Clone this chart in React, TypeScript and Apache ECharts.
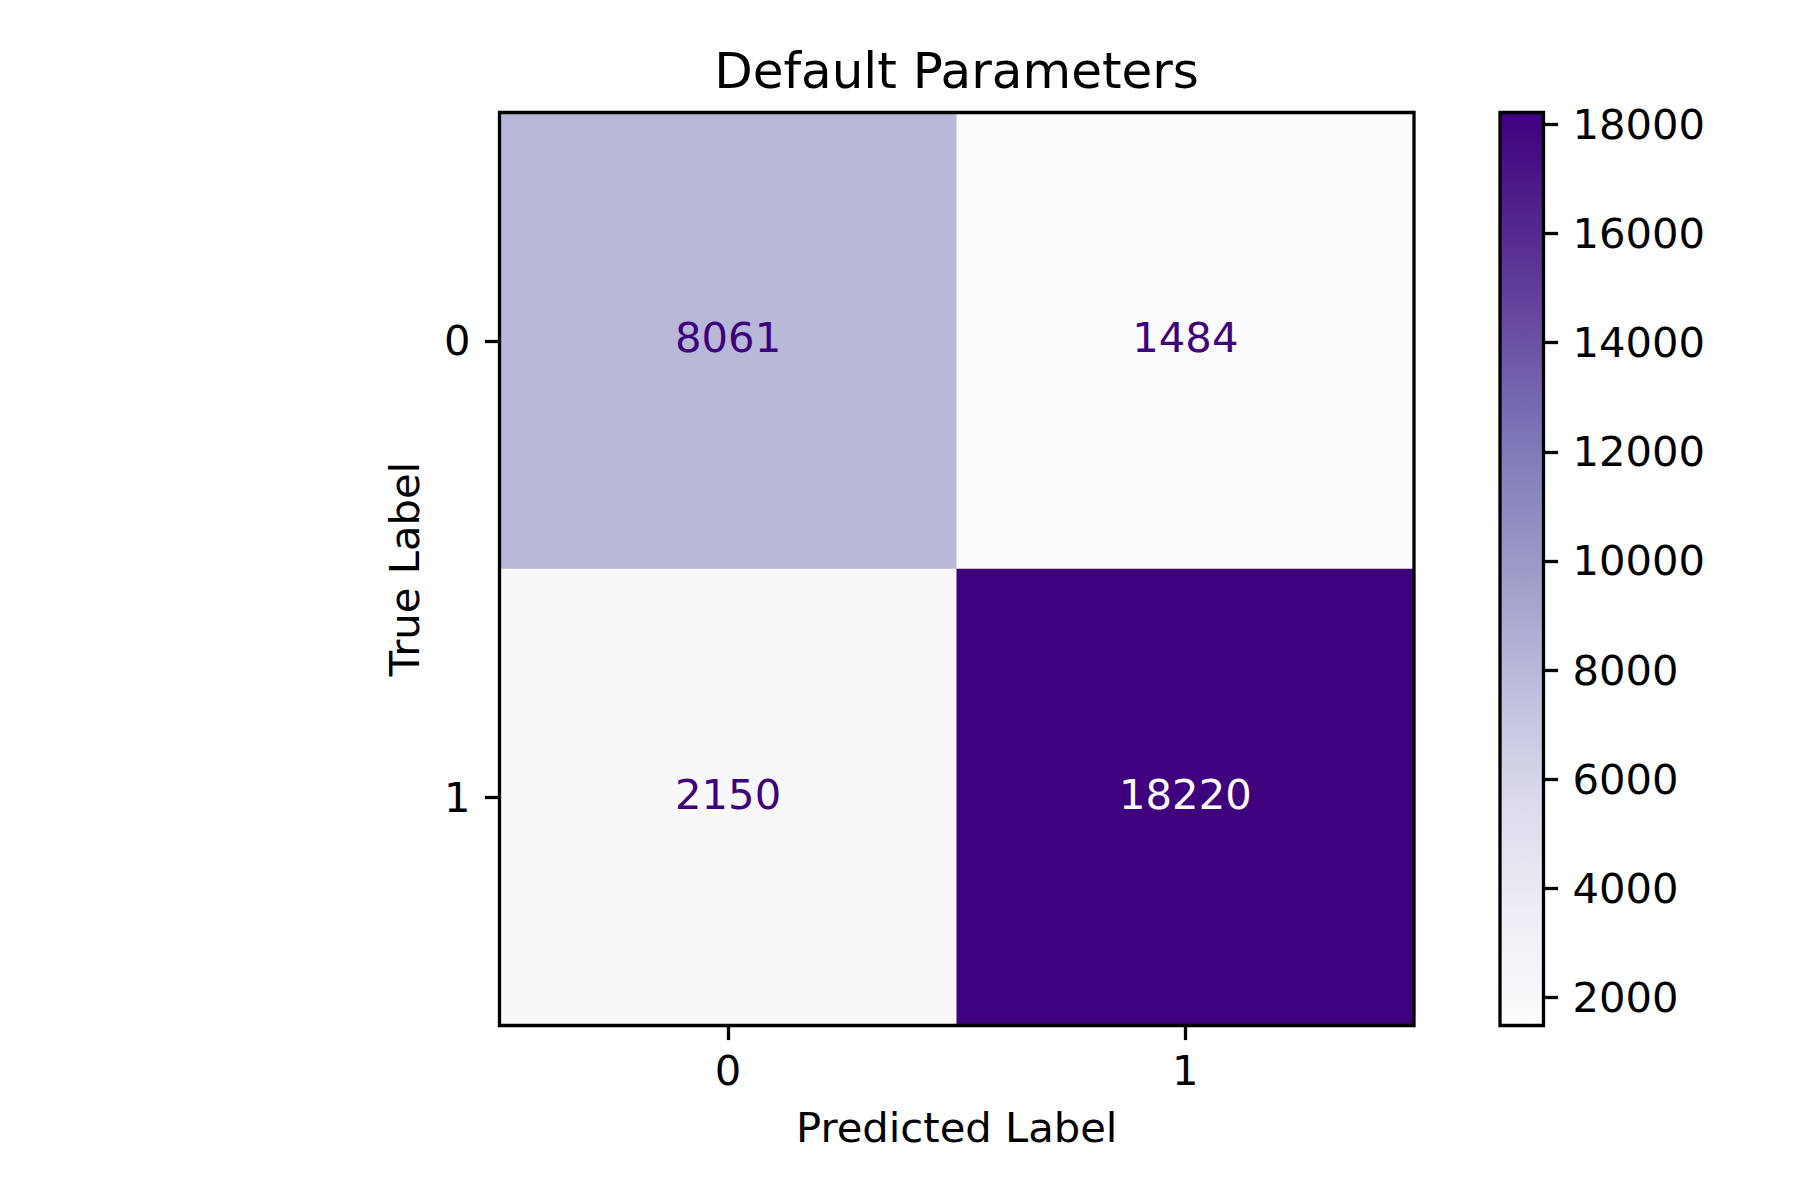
import React, { useEffect, useRef } from "react";
import * as echarts from "echarts";

const titleText = "Default Parameters";
const xCategories = ["0", "1"];
const yCategories = ["0", "1"];
const matrix = [
  [8061, 1484],
  [2150, 18220],
];
const colorbarTicks = [2000, 4000, 6000, 8000, 10000, 12000, 14000, 16000, 18000];
const purples = [
  "#fcfbfd",
  "#efedf5",
  "#dadaeb",
  "#bcbddc",
  "#9e9ac8",
  "#807dba",
  "#6a51a3",
  "#54278f",
  "#3f007d",
];
const xLabel = "Predicted Label";
const yLabel = "True Label";

const FONT = "DejaVu Sans";
const FS = 41.7;

export default function App() {
  const ref = useRef<HTMLDivElement>(null);
  useEffect(() => {
    if (!ref.current) return;
    const chart = echarts.init(ref.current, undefined, { renderer: "svg" });
    const flat = matrix.flat();
    const vmin = Math.min(...flat);
    const vmax = Math.max(...flat);
    const thresh = (vmin + vmax) / 2;
    const data: any[] = [];
    matrix.forEach((row, i) =>
      row.forEach((v, j) => {
        data.push({
          value: [j, i, v],
          label: { color: v < thresh ? purples[8] : purples[0] },
        });
      })
    );
    const stops = purples.map((c, i) => ({ offset: i / (purples.length - 1), color: c }));
    const tickStyle = { show: true, length: 14.6, lineStyle: { color: "#000", width: 3.3 } };
    chart.setOption({
      animation: false,
      backgroundColor: "#fff",
      textStyle: { fontFamily: FONT },
      title: {
        text: titleText,
        left: 956.5,
        textAlign: "center",
        top: 46,
        padding: 0,
        textStyle: { fontFamily: FONT, fontSize: 50, fontWeight: "normal", color: "#000" },
      },
      grid: [
        {
          left: 499.5,
          top: 112.5,
          width: 914.5,
          height: 913,
          show: true,
          z: 10,
          backgroundColor: "transparent",
          borderColor: "#000",
          borderWidth: 3.3,
        },
        {
          left: 1500,
          top: 112.5,
          width: 43.5,
          height: 913,
          show: true,
          z: 10,
          backgroundColor: "transparent",
          borderColor: "#000",
          borderWidth: 3.3,
        },
      ],
      xAxis: [
        {
          type: "category",
          gridIndex: 0,
          data: xCategories,
          axisLine: { show: false },
          axisTick: { ...tickStyle, alignWithLabel: true },
          axisLabel: { fontSize: FS, color: "#000", fontFamily: FONT, margin: 24 },
          splitLine: { show: false },
          name: xLabel,
          nameLocation: "middle",
          nameGap: 81,
          nameTextStyle: { fontSize: FS, color: "#000", fontFamily: FONT },
        },
        {
          type: "category",
          gridIndex: 1,
          data: [""],
          show: false,
        },
      ],
      yAxis: [
        {
          type: "category",
          gridIndex: 0,
          data: yCategories,
          inverse: true,
          axisLine: { show: false },
          axisTick: { ...tickStyle, alignWithLabel: true },
          axisLabel: { fontSize: FS, color: "#000", fontFamily: FONT, margin: 29 },
          splitLine: { show: false },
          name: yLabel,
          nameLocation: "middle",
          nameGap: 74,
          nameRotate: 90,
          nameTextStyle: { fontSize: FS, color: "#000", fontFamily: FONT },
        },
        {
          type: "value",
          gridIndex: 1,
          position: "right",
          min: vmin,
          max: vmax,
          axisLine: { show: false },
          axisTick: { ...tickStyle, customValues: colorbarTicks },
          axisLabel: {
            fontSize: FS,
            color: "#000",
            fontFamily: FONT,
            margin: 29,
            customValues: colorbarTicks,
            formatter: (v: number) => String(v),
          },
          splitLine: { show: false },
        },
      ],
      visualMap: {
        type: "continuous",
        show: false,
        min: vmin,
        max: vmax,
        dimension: 2,
        seriesIndex: 0,
        inRange: { color: purples },
      },
      series: [
        {
          type: "heatmap",
          xAxisIndex: 0,
          yAxisIndex: 0,
          data,
          label: { show: true, fontSize: FS, fontFamily: FONT, offset: [0, -3] },
          emphasis: { disabled: true },
        },
        {
          type: "bar",
          xAxisIndex: 1,
          yAxisIndex: 1,
          stack: "cb",
          barWidth: "100%",
          silent: true,
          data: [vmin],
          itemStyle: { color: "rgba(0,0,0,0)" },
        },
        {
          type: "bar",
          xAxisIndex: 1,
          yAxisIndex: 1,
          stack: "cb",
          barWidth: "100%",
          silent: true,
          data: [vmax - vmin],
          itemStyle: {
            color: new echarts.graphic.LinearGradient(0, 1, 0, 0, stops),
          },
        },
      ],
    });
    return () => chart.dispose();
  }, []);
  return (
    <div
      ref={ref}
      style={{ position: "absolute", left: 0, top: 0, width: 1800, height: 1200 }}
    />
  );
}
